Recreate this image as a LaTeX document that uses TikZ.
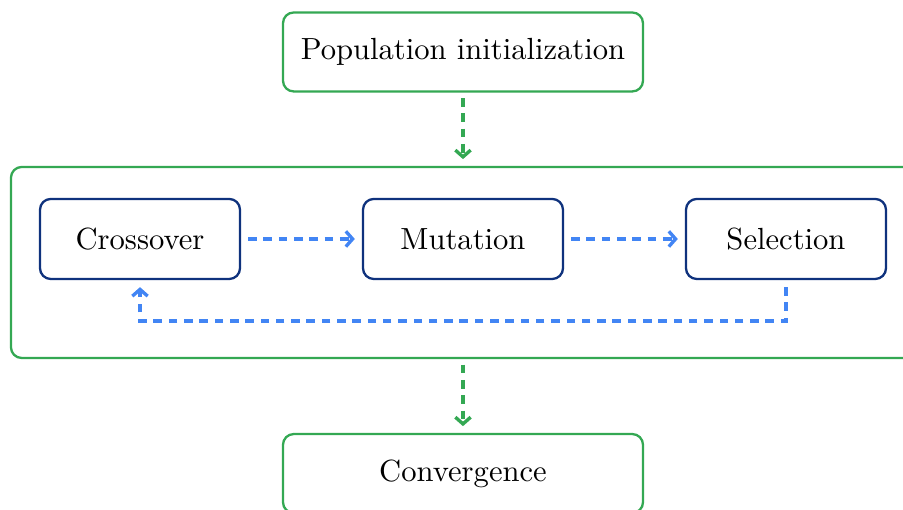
\documentclass[tikz,border=0pt]{standalone}
\usepackage{tikz}
\usetikzlibrary{arrows.meta}

\definecolor{stagegreen}{RGB}{52,168,83}
\definecolor{opblue}{RGB}{66,133,244}
\definecolor{opnavy}{RGB}{15,50,125}

\begin{document}
\begin{tikzpicture}[
    stage/.style={draw=stagegreen, line width=0.75pt, rounded corners=3.5pt,
      minimum width=4.135cm, minimum height=0.907cm},
    op/.style={draw=opnavy, line width=0.75pt, rounded corners=3.5pt,
      minimum width=2.297cm, minimum height=0.919cm},
    gflow/.style={stagegreen, line width=1.1pt, dash pattern=on 2.8pt off 2.2pt,
      -{Straight Barb[length=2.2pt,width=5pt]}, shorten <=1.8pt, shorten >=2.2pt},
    bflow/.style={opblue, line width=1.1pt, dash pattern=on 2.8pt off 2.2pt,
      -{Straight Barb[length=2.2pt,width=5pt]}, shorten <=2.3pt, shorten >=2.3pt}]
  \useasboundingbox (0,0) rectangle (10.372,-5.858);
  % outer stages
  \node[stage] (init) at (5.318,-0.597) {Population initialization};
  \node[stage] (conv) at (5.318,-5.439) {Convergence};
  % the loop frame runs past the right edge
  \node[draw=stagegreen, line width=0.75pt, rounded corners=3.5pt,
    minimum width=10.384cm, minimum height=2.194cm] (loop) at (5.318,-3.015) {};
  % genetic operators
  \node[op] (cross) at (1.608,-2.745) {Crossover};
  \node[op] (mut) at (5.318,-2.745) {Mutation};
  \node[op] (sel) at (9.028,-2.745) {Selection};
  \draw[gflow] (init) -- (loop);
  \draw[gflow] (loop) -- (conv);
  \draw[bflow] (cross) -- (mut);
  \draw[bflow] (mut) -- (sel);
  \draw[bflow] (sel.south) -- ++(0,-0.47) -| (cross.south);
\end{tikzpicture}
\end{document}
